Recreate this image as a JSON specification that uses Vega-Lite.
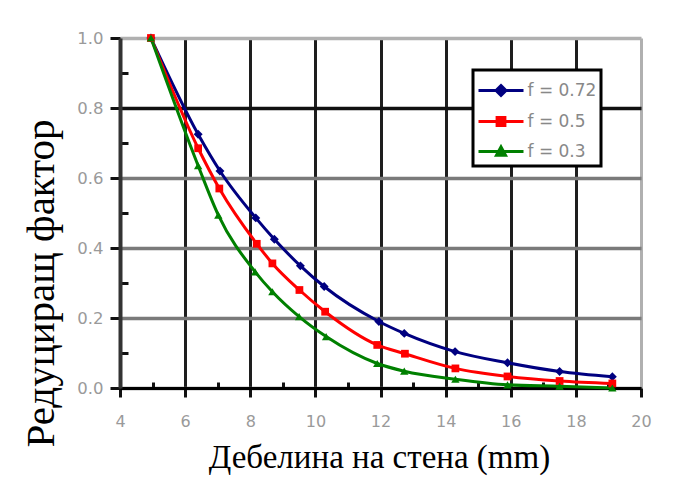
{
  "$schema": "https://vega.github.io/schema/vega-lite/v6.json",
  "width": 521,
  "height": 350,
  "autosize": {"type": "none"},
  "padding": {"left": 120, "top": 38, "right": 42, "bottom": 94},
  "background": "white",
  "config": {"view": {"stroke": null}},
  "data": {"values": [
    {"x": 4.95, "y": 1.0, "s": "f = 0.72"},
    {"x": 6.4, "y": 0.725, "s": "f = 0.72"},
    {"x": 7.07, "y": 0.62, "s": "f = 0.72"},
    {"x": 8.17, "y": 0.486, "s": "f = 0.72"},
    {"x": 8.74, "y": 0.425, "s": "f = 0.72"},
    {"x": 9.54, "y": 0.349, "s": "f = 0.72"},
    {"x": 10.27, "y": 0.29, "s": "f = 0.72"},
    {"x": 11.95, "y": 0.19, "s": "f = 0.72"},
    {"x": 12.73, "y": 0.156, "s": "f = 0.72"},
    {"x": 14.29, "y": 0.104, "s": "f = 0.72"},
    {"x": 15.9, "y": 0.072, "s": "f = 0.72"},
    {"x": 17.5, "y": 0.047, "s": "f = 0.72"},
    {"x": 19.12, "y": 0.032, "s": "f = 0.72"},
    {"x": 4.95, "y": 1.0, "s": "f = 0.5"},
    {"x": 6.4, "y": 0.685, "s": "f = 0.5"},
    {"x": 7.05, "y": 0.57, "s": "f = 0.5"},
    {"x": 8.2, "y": 0.412, "s": "f = 0.5"},
    {"x": 8.68, "y": 0.356, "s": "f = 0.5"},
    {"x": 9.51, "y": 0.28, "s": "f = 0.5"},
    {"x": 10.3, "y": 0.218, "s": "f = 0.5"},
    {"x": 11.9, "y": 0.123, "s": "f = 0.5"},
    {"x": 12.75, "y": 0.098, "s": "f = 0.5"},
    {"x": 14.3, "y": 0.056, "s": "f = 0.5"},
    {"x": 15.9, "y": 0.033, "s": "f = 0.5"},
    {"x": 17.5, "y": 0.02, "s": "f = 0.5"},
    {"x": 19.12, "y": 0.013, "s": "f = 0.5"},
    {"x": 4.95, "y": 1.0, "s": "f = 0.3"},
    {"x": 6.4, "y": 0.635, "s": "f = 0.3"},
    {"x": 7.02, "y": 0.494, "s": "f = 0.3"},
    {"x": 8.15, "y": 0.332, "s": "f = 0.3"},
    {"x": 8.68, "y": 0.275, "s": "f = 0.3"},
    {"x": 9.5, "y": 0.204, "s": "f = 0.3"},
    {"x": 10.33, "y": 0.147, "s": "f = 0.3"},
    {"x": 11.9, "y": 0.07, "s": "f = 0.3"},
    {"x": 12.73, "y": 0.048, "s": "f = 0.3"},
    {"x": 14.3, "y": 0.025, "s": "f = 0.3"},
    {"x": 15.9, "y": 0.009, "s": "f = 0.3"},
    {"x": 17.5, "y": 0.005, "s": "f = 0.3"},
    {"x": 19.12, "y": 0.0, "s": "f = 0.3"}
  ]},
  "encoding": {
    "x": {
      "field": "x", "type": "quantitative",
      "scale": {"domain": [4, 20], "nice": false, "zero": false},
      "axis": {
        "title": "Дебелина на стена (mm)",
        "values": [4, 5, 6, 7, 8, 9, 10, 11, 12, 13, 14, 15, 16, 17, 18, 19, 20],
        "labelExpr": "datum.value % 2 === 0 ? datum.label : ''",
        "labelFont": "DejaVu Sans", "labelFontSize": 16, "labelColor": "#9a9a9a",
        "labelPadding": 16, "labelFlush": false,
        "grid": true,
        "gridColor": {"condition": [
          {"test": "datum.value % 2 === 1", "value": "transparent"},
          {"test": "datum.value === 20", "value": "#b0b0b0"}
        ], "value": "#1e1e1e"},
        "gridWidth": 3,
        "domainColor": "#000000", "domainWidth": 3,
        "tickColor": "#111111", "tickWidth": 3,
        "tickSize": {"condition": {"test": "datum.value % 2 === 1", "value": -6}, "value": 9},
        "titleFont": "Liberation Serif", "titleFontSize": 33, "titleFontWeight": "normal",
        "titleColor": "#000000", "titleX": 259, "titleY": 79,
        "titleAlign": "center", "titleBaseline": "alphabetic"
      }
    },
    "y": {
      "field": "y", "type": "quantitative",
      "scale": {"domain": [0, 1], "nice": false},
      "axis": {
        "title": "Редуциращ фактор",
        "values": [0, 0.1, 0.2, 0.3, 0.4, 0.5, 0.6, 0.7, 0.8, 0.9, 1],
        "labelExpr": "round(datum.value * 10) % 2 === 0 ? format(datum.value, '.1f') : ''",
        "labelFont": "DejaVu Sans", "labelFontSize": 16.5, "labelColor": "#9a9a9a",
        "labelPadding": 7, "labelFlush": false,
        "grid": true,
        "gridColor": {"condition": [
          {"test": "round(datum.value * 10) % 2 === 1", "value": "transparent"},
          {"test": "datum.value === 1", "value": "#b0b0b0"},
          {"test": "round(datum.value * 10) === 8", "value": "#111111"}
        ], "value": "#7a7a7a"},
        "gridWidth": 3.5,
        "domainColor": "#333333", "domainWidth": 4,
        "tickColor": "#111111", "tickWidth": 3,
        "tickSize": {"condition": {"test": "round(datum.value * 10) % 2 === 1", "value": -8}, "value": 10},
        "titleFont": "Liberation Serif", "titleFontSize": 41, "titleFontWeight": "normal",
        "titleColor": "#000000", "titleAngle": 270, "titleX": -67, "titleY": 245,
        "titleAlign": "center", "titleBaseline": "alphabetic"
      }
    },
    "color": {
      "field": "s", "type": "nominal",
      "scale": {"domain": ["f = 0.72", "f = 0.5", "f = 0.3"], "range": ["#000080", "#ff0000", "#008000"]},
      "legend": {
        "title": null,
        "orient": "none", "legendX": 353, "legendY": 32,
        "strokeColor": "#000000", "fillColor": "#ffffff", "padding": 4,
        "symbolSize": 900, "symbolStrokeWidth": 3, "symbolOffset": 7.5,
        "labelFont": "DejaVu Sans", "labelFontSize": 17, "labelColor": "#888888",
        "labelOffset": 10, "rowPadding": 3,
        "encode": {
          "legend": {"update": {"strokeWidth": {"value": 3}}},
          "symbols": {"update": {
            "shape": {"signal": "datum.value === 'f = 0.72' ? 'M-1.5,0H1.5M0,-0.33L0.33,0L0,0.33L-0.33,0Z' : datum.value === 'f = 0.5' ? 'M-1.5,0H1.5M-0.26,-0.26H0.26V0.26H-0.26Z' : 'M-1.5,0H1.5M0,-0.3L0.3,0.25H-0.3Z'"},
            "fill": {"scale": "color", "field": "value"},
            "stroke": {"scale": "color", "field": "value"},
            "strokeWidth": {"value": 3},
            "opacity": {"value": 1}
          }}
        }
      }
    }
  },
  "layer": [
    {
      "mark": {"type": "line", "strokeWidth": 3, "interpolate": "monotone"}
    },
    {
      "transform": [{"filter": "datum.s === 'f = 0.72'"}],
      "mark": {"type": "point", "filled": true, "size": 80, "opacity": 1, "shape": "diamond"}
    },
    {
      "transform": [{"filter": "datum.s === 'f = 0.5'"}],
      "mark": {"type": "point", "filled": true, "size": 60, "opacity": 1, "shape": "square"}
    },
    {
      "transform": [{"filter": "datum.s === 'f = 0.3'"}],
      "mark": {"type": "point", "filled": true, "size": 70, "opacity": 1, "shape": "triangle-up"}
    }
  ]
}
